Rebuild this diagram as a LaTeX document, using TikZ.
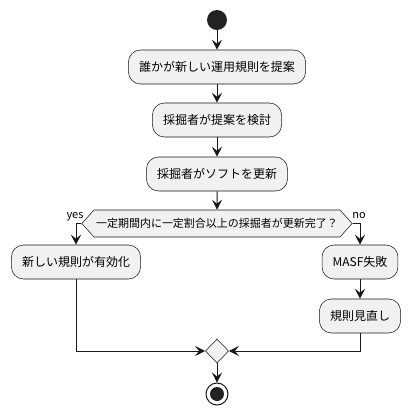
\documentclass[tikz,border=0pt]{standalone}
\usepackage{fontspec}
\setmainfont{Noto Sans CJK JP}
\usepackage{tikz}
\definecolor{boxfill}{HTML}{F1F1F1}
\definecolor{edge}{HTML}{181818}
\definecolor{dot}{HTML}{222222}
\usetikzlibrary{shapes.geometric, shapes.symbols, arrows.meta, positioning, calc}

\begin{document}
\begin{tikzpicture}[
    x=0.75pt, y=-0.75pt,
    act/.style={draw=edge, line width=0.4pt, rounded corners=9pt,
                fill=boxfill, minimum height=25.5pt, inner xsep=7.9pt,
                font=\fontsize{9}{11}\selectfont},
    flow/.style={-{Stealth[length=7.5pt, width=7.5pt, inset=3pt]},
                 line width=0.75pt, draw=edge},
    guard/.style={font=\fontsize{8.25}{10}\selectfont, inner sep=0pt}
]
    \useasboundingbox (0,0) rectangle (410,415);

    \node[circle, fill=dot, minimum size=15pt, inner sep=0pt] (start) at (217,20) {};

    \node[act] (propose) at (217,67) {誰かが新しい運用規則を提案};
    \node[act] (review) at (217,120) {採掘者が提案を検討};
    \node[act] (update) at (217,174) {採掘者がソフトを更新};

    \node[shape=signal, signal to=west and east, signal pointer angle=96,
          draw=edge, line width=0.4pt, fill=boxfill, minimum height=20.25pt,
          inner xsep=1.5pt, inner ysep=0pt,
          font=\fontsize{8.25}{10}\selectfont] (check) at (217,223.5)
          {一定期間内に一定割合以上の採掘者が更新完了？};

    \node[act] (valid) at (76,262) {新しい規則が有効化};
    \node[act] (fail) at (360,262) {MASF失敗};
    \node[act] (revise) at (360,316) {規則見直し};

    \node[diamond, draw=edge, line width=0.4pt, fill=boxfill,
          minimum width=17.5pt, minimum height=18pt, inner sep=0pt] (merge) at (217,351) {};

    \node[circle, draw=edge, line width=0.75pt, fill=white, minimum size=16.5pt, inner sep=0pt] (stop) at (217,394) {};
    \node[circle, fill=dot, minimum size=10.5pt, inner sep=0pt] (stopdot) at (stop) {};

    % Main sequence
    \draw[flow] (start) -- (propose);
    \draw[flow] (propose) -- (review);
    \draw[flow] (review) -- (update);
    \draw[flow] (update) -- (check);

    % Branches
    \draw[flow] (check.west) -| (valid.north);
    \draw[flow] (check.east) -| (fail.north);
    \draw[flow] (fail) -- (revise);

    % Merge
    \draw[flow] (valid.south) |- (merge.west);
    \draw[flow] (revise.south) |- (merge.east);
    \draw[flow] (merge) -- (stop);

    % Labels
    \node[guard] (yes) at (75,217) {yes};
    \node[guard] (no) at (359,216) {no};
\end{tikzpicture}
\end{document}
